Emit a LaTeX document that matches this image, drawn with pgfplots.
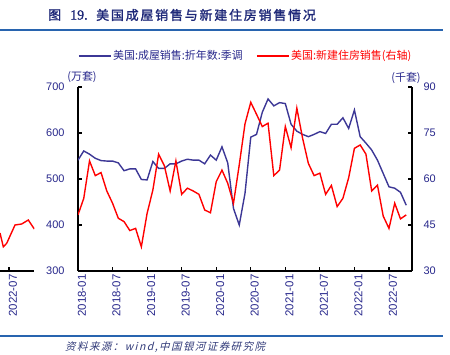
\documentclass[border=0pt]{standalone}
\usepackage{pgfplots}
\usepackage{pgfplotstable}
\pgfplotsset{compat=1.18}
\usepackage{fontspec}
\setmainfont{Liberation Sans}
\newfontfamily\cjk{Noto Sans CJK SC}
\newfontfamily\cjktitle{Noto Sans CJK SC}[LetterSpace=14,FakeBold=1.5]
\newfontfamily\serifb{Liberation Serif}[FakeBold=1]
\newfontfamily\cjksrc{Noto Sans CJK SC}[FakeSlant=0.25,LetterSpace=14]
\definecolor{navy}{RGB}{40,40,140}
\definecolor{lblue}{RGB}{60,55,150}
\definecolor{rulec}{RGB}{40,100,175}
\definecolor{titlec}{RGB}{30,40,120}

\pgfplotstableread{
i v
0 541
1 561
2 554
3 545
4 540
5 539
6 539
7 535
8 518
9 522
10 522
11 499
12 498
13 538
14 523
15 523
16 533
17 533
18 539
19 543
20 541
21 541
22 533
23 552
24 541
25 570
26 535
27 436
28 400
29 469
30 591
31 597
32 645
33 674
34 659
35 666
36 664
37 619
38 604
39 597
40 592
41 597
42 603
43 599
44 619
45 619
46 633
47 610
48 650
49 592
50 578
51 563
52 541
53 512
54 483
55 480
56 471
57 443
}\existing

\pgfplotstableread{
i v
0 48.3
1 53.7
2 65.9
3 61.1
4 62.1
5 56.1
6 52.1
7 47.2
8 46.1
9 43.2
10 43.9
11 37.9
12 48.8
13 56.4
14 68.1
15 64.3
16 56.1
17 65.9
18 55.0
19 57.0
20 56.1
21 55.0
22 49.9
23 49.0
24 59.1
25 62.9
26 58.6
27 52.1
28 64.6
29 78.0
30 85.0
31 81.1
32 77.1
33 78.2
34 61.1
35 62.9
36 77.1
37 70.2
38 83.1
39 73.3
40 65.1
41 61.1
42 61.9
43 55.0
44 57.9
45 51.0
46 53.7
47 60.4
48 70.0
49 71.1
50 68.1
51 56.1
52 58.0
53 47.9
54 43.9
55 52.1
56 47.0
57 48.3
}\newhomes

\pgfplotsset{
  common/.style={
    scale only axis, width=334bp, height=184bp,
    at={(78bp,83bp)}, anchor=south west,
    xmin=0, xmax=58,
    tick align=inside, major tick length=4bp,
    axis line style={black, line width=1.1pt},
    tick style={black, line width=1.1pt},
    /pgf/number format/assume math mode=true,
    ticklabel style={font=\fontsize{11}{13}\selectfont, text=navy},
  }
}

\begin{document}
\begin{tikzpicture}[x=1bp,y=1bp]
\useasboundingbox (0,0) rectangle (450,354);
\fill[white] (0,0) rectangle (450,354);

% leftover fragment of neighbouring chart
\begin{axis}[
  scale only axis, width=34.3bp, height=184bp,
  at={(0bp,83bp)}, anchor=south west,
  xmin=0, xmax=34.3, ymin=300, ymax=700,
  axis x line*=bottom, axis y line=none,
  tick align=inside, major tick length=4bp,
  axis line style={black, line width=1.1pt},
  tick style={black, line width=1.1pt},
  xtick={9}, xticklabels={2022-07},
  xticklabel style={rotate=90, anchor=east, font=\fontsize{11.5}{13}\selectfont, text=navy, yshift=-4bp},
]
\addplot[red, line width=1.4pt] coordinates {(0,382.6) (3.3,352.8) (6.7,360.2) (15,400) (21.7,402.2) (28.3,410.9) (34.3,391.3)};
\end{axis}

\begin{axis}[common,
  ymin=300, ymax=700, ytick={300,400,...,700},
  axis x line*=bottom, axis y line*=left,
  xtick={0,6,...,54},
  xticklabels={2018-01,2018-07,2019-01,2019-07,2020-01,2020-07,2021-01,2021-07,2022-01,2022-07},
  xticklabel style={rotate=90, anchor=east, font=\fontsize{11.5}{13}\selectfont, yshift=-4bp},
  yticklabel style={xshift=-10bp},
  legend style={at={(0,1)}, anchor=west, yshift=31bp, draw=none, fill=none,
    inner sep=0pt, legend columns=2,
    font=\cjk\fontsize{11}{13}\selectfont,
    /tikz/every even column/.append style={column sep=12bp},
    nodes={inner sep=1.5bp}},
  legend image code/.code={\draw[#1] (0bp,0bp) -- (32bp,0bp);},
]
\addplot[lblue, line width=1.4pt] table[x=i,y=v] {\existing};
\addlegendentry{\textcolor{navy}{美国:成屋销售:折年数:季调}}
\addlegendimage{red, line width=1.4pt}
\addlegendentry{\textcolor{red}{美国:新建住房销售(右轴)}}
\end{axis}

\begin{axis}[common,
  ymin=30, ymax=90, ytick={30,45,...,90},
  axis x line=none, axis y line*=right,
  yticklabel style={xshift=8bp},
]
\addplot[red, line width=1.4pt] table[x=i,y=v] {\newhomes};
\end{axis}

% axis units
\node[font=\cjk\fontsize{11}{13}\selectfont, text=navy] at (82,277) {(万套)};
\node[font=\cjk\fontsize{11}{13}\selectfont, text=navy] at (406,276) {(千套)};

% title
\node[anchor=west, inner sep=0, font=\cjktitle\fontsize{13}{15}\selectfont, text=titlec] at (48,339) {图};
\node[anchor=west, inner sep=0, font=\serifb\fontsize{14}{15}\selectfont, text=titlec] at (70,339) {19.};
\node[anchor=west, inner sep=0, font=\cjktitle\fontsize{13}{15}\selectfont, text=titlec] at (96,339) {美国成屋销售与新建住房销售情况};

% rules
\draw[rulec, line width=1.5bp] (0,324) -- (443,324);
\draw[rulec, line width=1.5bp] (0,18) -- (443,18);

% source
\node[anchor=west, inner sep=0, font=\cjksrc\fontsize{10.5}{12}\selectfont, text=titlec!80!gray] at (65,6.5) {资料来源：wind,中国银河证券研究院};
\end{tikzpicture}
\end{document}
